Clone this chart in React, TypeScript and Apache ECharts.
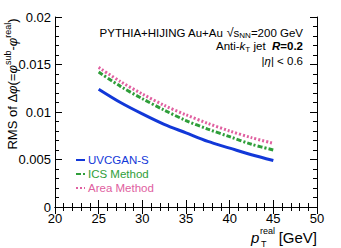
import React, { useEffect, useRef } from "react";
import * as echarts from "echarts";

const ptValues = [25, 27.5, 30, 32.5, 35, 37.5, 40, 42.5, 45];
const uvcganS = [0.0124, 0.0110, 0.0098, 0.0087, 0.0078, 0.0069, 0.0062, 0.0055, 0.0049];
const icsMethod = [0.0142, 0.0127, 0.0114, 0.0102, 0.0091, 0.0082, 0.0074, 0.0066, 0.0060];
const areaMethod = [0.0147, 0.0132, 0.0119, 0.0107, 0.0097, 0.0088, 0.0080, 0.0073, 0.0067];
const seriesNames = ["UVCGAN-S", "ICS Method", "Area Method"];
const seriesColors = ["#1238d8", "#2f9e3a", "#e060a0"];

const FONT = "Liberation Sans, Arial, Helvetica, sans-serif";

export default function App() {
  const ref = useRef<HTMLDivElement>(null);
  useEffect(() => {
    if (!ref.current) return;
    const chart = echarts.init(ref.current, undefined, { renderer: "svg" });
    const pair = (ys: number[]) => ptValues.map((x, i) => [x, ys[i]]);
    const minor = { show: true, splitNumber: 5, length: 4, lineStyle: { color: "#000" } };
    const axisCommon = {
      axisLine: { show: true, lineStyle: { color: "#000", width: 1 } },
      axisTick: { show: true, inside: true, length: 7, lineStyle: { color: "#000" } },
      minorTick: minor,
      splitLine: { show: false },
    };
    const txt = (size: number, extra: any = {}) => ({ fontFamily: FONT, fontSize: size, fill: "#000", ...extra });
    chart.setOption({
      animation: false,
      grid: { left: 55, right: 24, top: 17, bottom: 41 },
      xAxis: [
        {
          type: "value", min: 20, max: 50, interval: 5, position: "bottom",
          ...axisCommon,
          axisLabel: { color: "#000", fontFamily: FONT, fontSize: 13, margin: 5 },
        },
        {
          type: "value", min: 20, max: 50, interval: 5, position: "top",
          ...axisCommon,
          axisLabel: { show: false },
        },
      ],
      yAxis: [
        {
          type: "value", min: 0, max: 0.02, interval: 0.005, position: "left",
          ...axisCommon,
          axisLabel: { color: "#000", fontFamily: FONT, fontSize: 13, margin: 4 },
        },
        {
          type: "value", min: 0, max: 0.02, interval: 0.005, position: "right",
          ...axisCommon,
          axisLabel: { show: false },
        },
      ],
      legend: {
        orient: "vertical",
        left: 70,
        top: 149,
        itemWidth: 9,
        itemHeight: 2,
        itemGap: 2,
        itemStyle: { opacity: 0 },
        textStyle: { fontFamily: FONT, fontSize: 11.5, padding: [0, 0, 0, -2] },
        data: seriesNames.map((n, i) => ({ name: n, textStyle: { color: seriesColors[i] } })),
      },
      graphic: [
        {
          type: "text", right: 38, top: 26,
          style: {
            text: "{n|PYTHIA+HIJING Au+Au }{r|√}{s|s}{sub|NN}{n|=200 GeV}",
            rich: {
              n: txt(11.5),
              r: txt(12.5),
              s: txt(11.5),
              sub: txt(8, { padding: [6, 0, 0, 0] }),
            },
          },
        },
        {
          type: "text", right: 38, top: 40,
          style: {
            text: "{n|Anti-}{it|k}{sub|T}{n| jet  }{b|R}{bn|=0.2}",
            rich: {
              n: txt(11.5),
              it: txt(11.5, { fontStyle: "italic" }),
              sub: txt(8, { padding: [6, 0, 0, 0] }),
              b: txt(11.5, { fontWeight: "bold", fontStyle: "italic" }),
              bn: txt(11.5, { fontWeight: "bold" }),
            },
          },
        },
        {
          type: "text", right: 38, top: 55,
          style: {
            text: "{n||}{it|η}{n|| < 0.6}",
            rich: {
              n: txt(11.5),
              it: txt(11.5, { fontStyle: "italic" }),
            },
          },
        },
        {
          type: "text", x: 11, y: 84, rotation: Math.PI / 2,
          style: {
            text: "{n|RMS of Δ}{it|φ}{n|(=}{it|φ}{sup|sub}{n|-}{it|φ}{sup|real}{n|)}",
            align: "center",
            verticalAlign: "middle",
            rich: {
              n: txt(13, { verticalAlign: "bottom" }),
              it: txt(13, { fontStyle: "italic", verticalAlign: "bottom" }),
              sup: txt(9, { verticalAlign: "top", padding: [0, 0, 6, 0] }),
            },
          },
        },
        {
          type: "text", x: 251, y: 245,
          style: { text: "p", ...txt(15, { fontStyle: "italic" }), verticalAlign: "bottom" },
        },
        {
          type: "text", x: 260, y: 226,
          style: { text: "real", ...txt(9), verticalAlign: "top" },
        },
        {
          type: "text", x: 261, y: 248,
          style: { text: "T", ...txt(9), verticalAlign: "bottom" },
        },
        {
          type: "text", x: 317, y: 245,
          style: { text: "[GeV]", ...txt(15), align: "right", verticalAlign: "bottom" },
        },
      ],
      series: [
        {
          name: seriesNames[0], type: "line", smooth: 0.3, symbol: "none",
          data: pair(uvcganS),
          lineStyle: { color: seriesColors[0], width: 3, type: "solid" },
          itemStyle: { color: seriesColors[0] },
        },
        {
          name: seriesNames[1], type: "line", smooth: 0.3, symbol: "none",
          data: pair(icsMethod),
          lineStyle: { color: seriesColors[1], width: 3, type: [5, 2, 2, 2] },
          itemStyle: { color: seriesColors[1] },
        },
        {
          name: seriesNames[2], type: "line", smooth: 0.3, symbol: "none",
          data: pair(areaMethod),
          lineStyle: { color: seriesColors[2], width: 3, type: [2, 2] },
          itemStyle: { color: seriesColors[2] },
        },
      ],
    });
    return () => chart.dispose();
  }, []);
  return <div ref={ref} style={{ width: 341, height: 248, position: "absolute", left: 0, top: 0 }} />;
}
